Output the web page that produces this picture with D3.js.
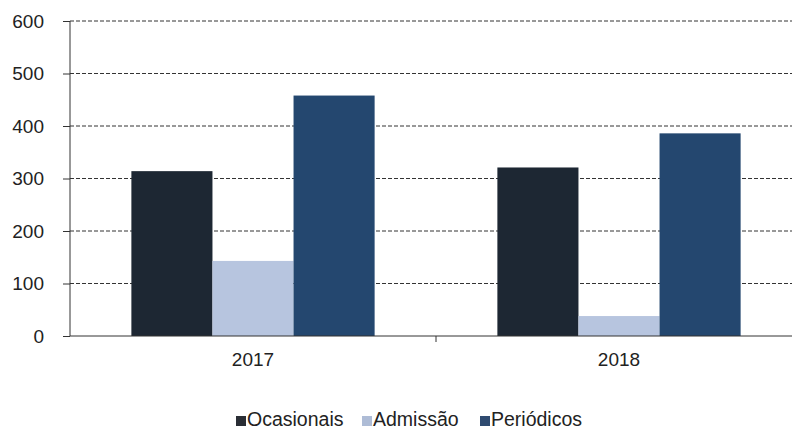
<!DOCTYPE html>
<html><head><meta charset="utf-8">
<script src="https://cdn.jsdelivr.net/npm/d3@7"></script>
<style>body{margin:0;background:#fff}svg{display:block}</style>
</head><body><svg id="c" width="792" height="431"></svg>
<script>
const categories = ["2017", "2018"];
const seriesNames = ["Ocasionais", "Admissão", "Periódicos"];
const ocasionais = [314, 321];
const admissao = [143, 38];
const periodicos = [458, 386];
const yTicks = [0, 100, 200, 300, 400, 500, 600];
const colors = ["#1d2733", "#b7c5df", "#24476f"];

(function () {
const values = [ocasionais, admissao, periodicos];
const svg = d3.select("#c");
const mLeft = 70, mRight = 802, mTop = 21, mBottom = 336;
const font = "Liberation Sans, Arial, sans-serif";

const y = d3.scaleLinear().domain([0, 600]).range([mBottom, mTop]);
const x0 = d3.scaleBand().domain(categories).range([mLeft, mRight]).paddingInner(0).paddingOuter(0);
const x1 = d3.scaleBand().domain(seriesNames).range([0, x0.bandwidth()]).paddingInner(0).paddingOuter(0.757);

// gridlines
svg.append("g").selectAll("line").data(yTicks.filter(d => d > 0)).join("line")
  .attr("x1", mLeft).attr("x2", 792).attr("y1", d => y(d)).attr("y2", d => y(d))
  .attr("stroke", "#333").attr("stroke-width", 1).attr("stroke-dasharray", "4,2");

// bars
categories.forEach((c, ci) => {
  svg.append("g").selectAll("rect").data(seriesNames).join("rect")
    .attr("x", s => x0(c) + x1(s))
    .attr("width", x1.bandwidth())
    .attr("y", (s, si) => y(values[si][ci]))
    .attr("height", (s, si) => mBottom - y(values[si][ci]))
    .attr("fill", (s, si) => colors[si]);
});

// y axis
const yAxis = d3.axisLeft(y).tickValues(yTicks).tickSize(7).tickPadding(19).tickFormat(d3.format("d"));
const ga = svg.append("g").attr("transform", `translate(${mLeft},0)`).call(yAxis);
ga.attr("font-size", null).attr("font-family", null);
ga.select(".domain").attr("stroke", "#333").attr("d", `M0,${mTop}V${mBottom}`);
ga.selectAll(".tick line").attr("stroke", "#333");
ga.selectAll("text").attr("font-family", font).attr("font-size", 19).attr("fill", "#222");

// x axis
const xAxis = d3.axisBottom(x0).tickSize(0).tickPadding(0);
const gx = svg.append("g").attr("transform", `translate(0,${mBottom})`).call(xAxis);
gx.attr("font-size", null).attr("font-family", null);
gx.select(".domain").attr("stroke", "#333").attr("d", `M${mLeft},0H792`);
gx.selectAll("text").attr("font-family", font).attr("font-size", 19).attr("fill", "#222")
  .attr("dy", null).attr("y", 30);
svg.append("g").selectAll("line").data(categories.slice(1)).join("line")
  .attr("x1", d => x0(d)).attr("x2", d => x0(d)).attr("y1", mBottom).attr("y2", mBottom + 6)
  .attr("stroke", "#333");

// legend
const legendX = [236, 362, 480];
const legendSwatch = ["#2a2e35", "#aebcd6", "#2f4b70"];
const lg = svg.append("g").selectAll("g").data(seriesNames).join("g")
  .attr("transform", (d, i) => `translate(${legendX[i]},426)`);
lg.append("rect").attr("x", 0).attr("y", -10).attr("width", 10).attr("height", 10)
  .attr("fill", (d, i) => legendSwatch[i]);
lg.append("text").attr("x", 11).attr("y", 0).text(d => d)
  .attr("font-family", font).attr("font-size", 19.5).attr("fill", "#222");
})();
</script></body></html>
